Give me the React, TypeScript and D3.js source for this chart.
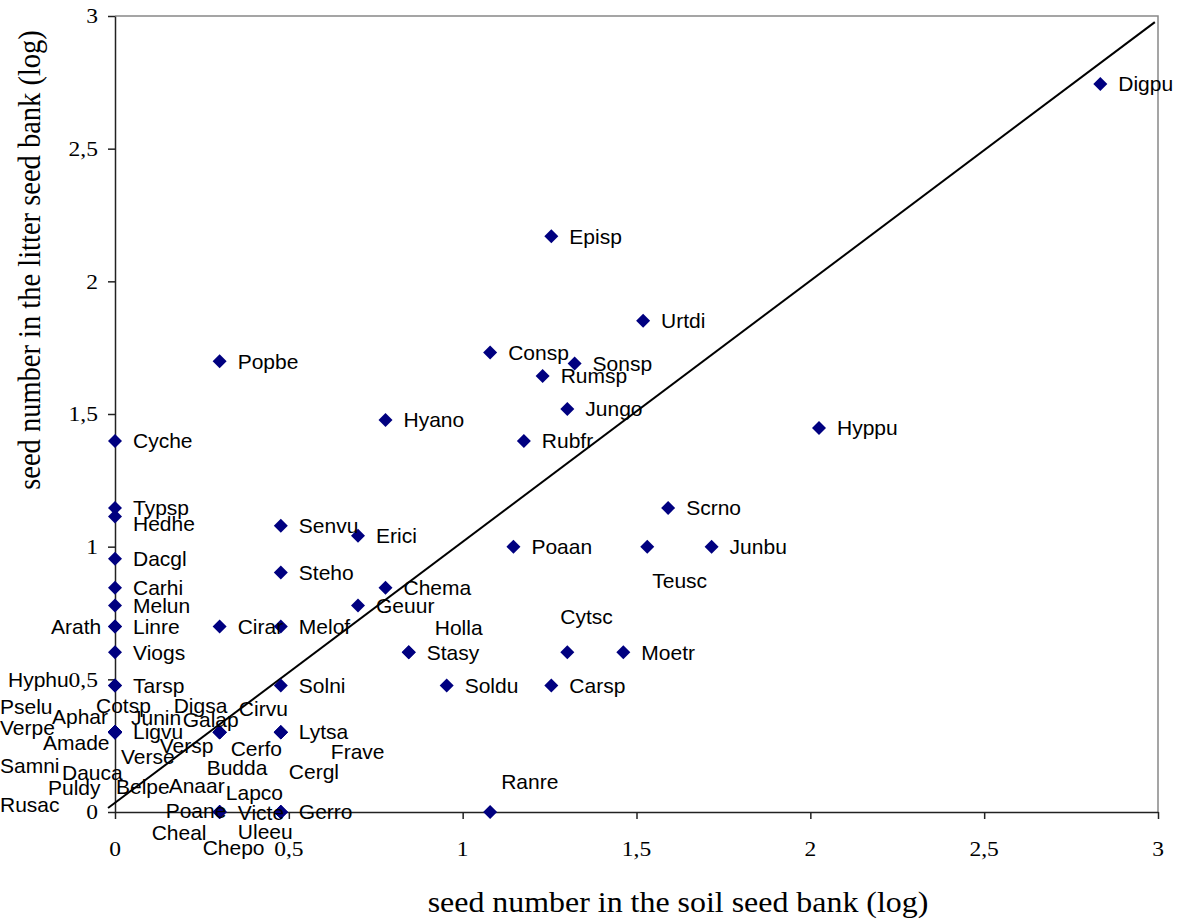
import React, { useRef, useEffect } from 'react';
import * as d3 from 'd3';

// species codes with log seed numbers (soil = x, litter = y)
const species = [
    'Digpu', 'Episp', 'Urtdi', 'Consp', 'Sonsp', 'Rumsp', 'Jungo', 'Rubfr', 'Hyano', 'Popbe',
    'Hyppu', 'Cyche', 'Typsp', 'Hedhe', 'Dacgl', 'Carhi', 'Melun', 'Linre', 'Arath', 'Viogs',
    'Tarsp', 'Hyphu', 'Ligvu', 'Scrno', 'Junbu', 'Poaan', 'Teusc', 'Senvu', 'Erici', 'Steho',
    'Chema', 'Geuur', 'Cirar', 'Melof', 'Stasy', 'Holla', 'Cytsc', 'Moetr', 'Solni', 'Soldu',
    'Carsp', 'Lytsa', 'Galap', 'Gerro', 'Victe', 'Uleeu', 'Lapco', 'Poane', 'Cheal', 'Chepo',
    'Anaar', 'Ranre', 'Pselu', 'Aphar', 'Verpe', 'Amade', 'Cotsp', 'Junin', 'Samni', 'Dauca',
    'Verse', 'Rusac', 'Puldy', 'Belpe', 'Digsa', 'Versp', 'Budda', 'Cerfo', 'Cirvu', 'Frave',
    'Cergl'
];

const soil = [
    2.834, 1.255, 1.519, 1.079, 1.322, 1.230, 1.301, 1.176, 0.778, 0.301,
    2.025, 0, 0, 0, 0, 0, 0, 0, 0, 0,
    0, 0, 0, 1.591, 1.716, 1.146, 1.531, 0.477, 0.699, 0.477,
    0.778, 0.699, 0.301, 0.477, 0.845, 0.845, 1.301, 1.462, 0.477, 0.954,
    1.255, 0.477, 0.301, 0.477, 0.477, 0.477, 0.477, 0.301, 0.301, 0.301,
    0.301, 1.079, 0, 0, 0, 0, 0, 0, 0, 0,
    0, 0, 0, 0, 0.301, 0.301, 0.301, 0.301, 0.477, 0.477,
    0.477
];

const litter = [
    2.744, 2.170, 1.851, 1.732, 1.690, 1.643, 1.519, 1.398, 1.477, 1.699,
    1.447, 1.398, 1.146, 1.114, 0.954, 0.845, 0.778, 0.699, 0.699, 0.602,
    0.477, 0.477, 0.301, 1.146, 1.0, 1.0, 1.0, 1.079, 1.041, 0.903,
    0.845, 0.778, 0.699, 0.699, 0.602, 0.602, 0.602, 0.602, 0.477, 0.477,
    0.477, 0.301, 0.301, 0, 0, 0, 0, 0, 0, 0,
    0, 0, 0.301, 0.301, 0.301, 0.301, 0.301, 0.301, 0.301, 0.301,
    0.301, 0.301, 0.301, 0.301, 0.301, 0.301, 0.301, 0.301, 0.301, 0.301,
    0.301
];

// the 1:1 reference line
const lineSoil = [-0.02, 2.991];
const lineLitter = [0.015, 2.977];

const ticks = [0, 0.5, 1, 1.5, 2, 2.5, 3];

// labels that were dragged away from their point (pixel shift from the point)
const labelShift: Record<string, [number, number]> = {
    Hedhe: [18, 7], Arath: [-64, 0], Hyphu: [-107, -6], Holla: [26, -25], Cytsc: [-7, -36],
    Teusc: [5, 34], Ranre: [11, -30],
    Pselu: [-115, -25], Aphar: [-63, -15], Verpe: [-115, -4], Amade: [-72, 11], Cotsp: [-19, -26],
    Junin: [16, -14], Samni: [-115, 34], Dauca: [-53, 41], Verse: [6, 25], Rusac: [-115, 73],
    Puldy: [-67, 56], Belpe: [1, 55],
    Digsa: [-46, -26], Galap: [-37, -12], Versp: [-60, 14], Budda: [-13, 36], Cerfo: [11, 17],
    Cirvu: [-42, -23], Frave: [50, 20], Cergl: [8, 40],
    Anaar: [-51, -26], Poane: [-54, -1], Cheal: [-68, 21], Chepo: [-17, 36],
    Lapco: [-55, -19], Victe: [-43, 1], Uleeu: [-43, 20]
};

const App: React.FC = () => {
    const svgRef = useRef<SVGSVGElement | null>(null);

    useEffect(() => {
        if (!svgRef.current) return;

        const width = 1186;
        const height = 923;
        const left = 115, right = 1158, top = 16, bottom = 812;
        const stretch = 1.12; // the original picture is a bit wider than tall

        const svg = d3.select(svgRef.current);
        svg.selectAll('*').remove();

        const x = d3.scaleLinear().domain([0, 3]).range([left, right]);
        const y = d3.scaleLinear().domain([0, 3]).range([bottom, top]);

        const fmt = (v: number) => d3.format('~g')(v).replace('.', ',');
        const serif = '"Times New Roman", "Liberation Serif", serif';
        const sans = 'Arial, "Liberation Sans", sans-serif';

        // frame (top and right)
        svg.append('path')
            .attr('d', `M${left},${top}H${right}V${bottom}`)
            .attr('fill', 'none')
            .attr('stroke', '#888')
            .attr('stroke-width', 1.5);

        // axes
        const yAxis = svg.append('g')
            .attr('transform', `translate(${left},0)`)
            .call(d3.axisLeft(y).tickValues(ticks).tickSize(7).tickSizeOuter(0).tickFormat(() => ''));
        const xAxis = svg.append('g')
            .attr('transform', `translate(0,${bottom})`)
            .call(d3.axisBottom(x).tickValues(ticks).tickSize(7).tickSizeOuter(0).tickFormat(() => ''));
        [yAxis, xAxis].forEach(g => {
            g.selectAll('path, line').attr('stroke', '#222').attr('stroke-width', 1.5);
        });

        // tick labels
        svg.append('g').selectAll('text')
            .data(ticks)
            .join('text')
            .attr('transform', d => `translate(98,${y(d)}) scale(${stretch},1)`)
            .attr('dy', '0.35em')
            .attr('text-anchor', 'end')
            .attr('font-family', serif)
            .attr('font-size', 21)
            .text(d => fmt(d));

        svg.append('g').selectAll('text')
            .data(ticks)
            .join('text')
            .attr('transform', d => `translate(${x(d)},849) scale(${stretch},1)`)
            .attr('dy', '0.35em')
            .attr('text-anchor', 'middle')
            .attr('font-family', serif)
            .attr('font-size', 21)
            .text(d => fmt(d));

        // axis titles
        svg.append('text')
            .attr('transform', `translate(678,902) scale(${stretch},1)`)
            .attr('dy', '0.35em')
            .attr('text-anchor', 'middle')
            .attr('font-family', serif)
            .attr('font-size', 28.5)
            .text('seed number in the soil seed bank (log)');

        svg.append('text')
            .attr('transform', `translate(29,260) scale(${stretch},1) rotate(-90)`)
            .attr('dy', '0.35em')
            .attr('text-anchor', 'middle')
            .attr('font-family', serif)
            .attr('font-size', 28.5)
            .text('seed number in the litter seed bank (log)');

        // 1:1 line
        const line = d3.line<number>()
            .x(i => x(lineSoil[i]))
            .y(i => y(lineLitter[i]));
        svg.append('path')
            .attr('d', line([0, 1]))
            .attr('fill', 'none')
            .attr('stroke', '#000')
            .attr('stroke-width', 2);

        const idx = d3.range(species.length);

        // points
        svg.append('g').selectAll('path')
            .data(idx)
            .join('path')
            .attr('transform', i => `translate(${x(soil[i])},${y(litter[i])})`)
            .attr('d', 'M0,-7L7,0L0,7L-7,0Z')
            .attr('fill', '#000080');

        // labels
        svg.append('g').selectAll('text')
            .data(idx)
            .join('text')
            .attr('x', i => x(soil[i]) + (labelShift[species[i]]?.[0] ?? 18))
            .attr('y', i => y(litter[i]) + (labelShift[species[i]]?.[1] ?? 0))
            .attr('dy', '0.35em')
            .attr('font-family', sans)
            .attr('font-size', 21)
            .attr('fill', '#000')
            .text(i => species[i]);

        svg.attr('width', width).attr('height', height);
    }, []);

    return <svg ref={svgRef} width="1186" height="923" style={{ position: 'absolute', left: 0, top: 0 }} />;
};

export default App;
